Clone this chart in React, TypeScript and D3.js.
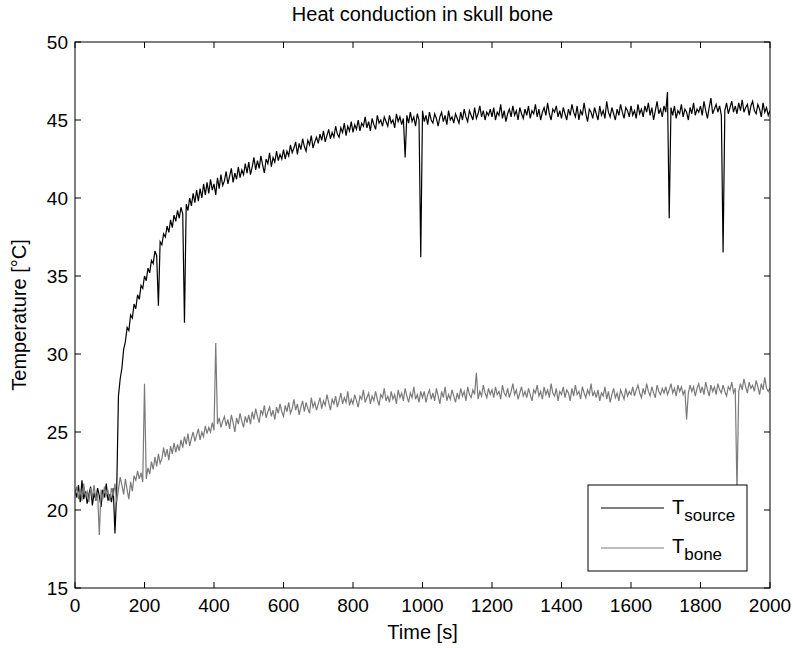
import React from 'react';
import * as d3 from 'd3';

const step = 5;
const sourceTemp = [
  21.3, 20.8, 21.6, 20.5, 21.9, 20.7, 21.2, 20.4, 21.0, 21.5, 20.3, 21.1, 20.6, 21.4, 20.9, 20.2, 21.3, 20.8, 21.7, 20.6,
  21.0, 20.5, 21.4, 18.5, 21.2, 27.3, 28.4, 29.1, 30.3, 30.8, 31.7, 31.5, 32.5, 32.3, 33.2, 32.9, 33.8, 33.5, 34.4, 34.2,
  35.0, 34.7, 35.5, 35.2, 36.0, 35.8, 36.6, 36.3, 33.1, 37.2, 37.0, 37.7, 37.5, 38.2, 37.8, 38.6, 38.1, 38.9, 38.5, 39.2,
  38.7, 39.4, 39.0, 32.0, 39.6, 39.2, 40.0, 39.5, 40.3, 39.7, 40.5, 39.8, 40.6, 40.0, 40.9, 40.2, 41.0, 40.3, 41.2, 40.5,
  40.9, 40.2, 41.3, 40.6, 41.5, 40.8, 41.1, 41.7, 40.9, 41.4, 41.9, 41.0, 41.6, 41.2, 42.0, 41.3, 41.8, 41.5, 42.2, 41.6,
  42.3, 41.5, 42.0, 42.6, 41.8, 42.4, 41.9, 42.7, 42.1, 41.6, 42.5, 42.2, 42.9, 42.0, 42.6, 42.3, 43.0, 42.4, 42.8, 42.5,
  43.1, 42.5, 43.0, 42.7, 43.4, 42.9, 43.2, 43.6, 42.8, 43.5, 43.1, 43.8, 43.3, 43.0, 43.7, 43.4, 44.0, 43.2, 43.6, 43.9,
  43.5, 44.1, 43.7, 44.3, 43.6, 44.0, 44.4, 43.8, 44.2, 43.9, 44.6, 44.1, 43.9, 44.5, 44.2, 44.8, 44.0, 44.6, 44.3, 44.9,
  44.2, 44.7, 44.4, 45.0, 44.3, 44.8, 44.6, 45.2, 44.5, 44.9, 44.3, 45.1, 44.7, 44.4, 45.3, 44.8, 45.0, 44.6, 45.2, 44.9,
  44.6, 45.3, 44.8, 45.0, 44.5, 45.4, 44.9, 45.2, 44.7, 45.1, 42.6, 45.3, 44.8, 45.5, 44.9, 45.2, 44.6, 45.4, 45.0, 36.2,
  45.6, 44.9, 45.3, 44.7, 45.5, 45.0, 44.8, 45.4, 45.1, 44.6, 45.2, 45.5, 44.9, 45.3, 44.7, 45.6, 45.0, 45.2, 44.8, 45.4,
  45.1, 44.8, 45.5, 45.0, 45.7, 45.2, 44.9, 45.6, 45.3, 45.0, 45.8, 45.1, 45.4, 45.9, 45.2, 45.6, 45.0, 45.5, 45.3, 45.7,
  45.2, 45.8, 45.0, 45.5, 45.3, 46.0, 45.1, 45.6, 44.9, 45.4, 45.7, 45.2, 45.9, 45.3, 45.6, 45.0, 45.8, 45.4, 45.1, 45.7,
  45.3, 45.9, 45.1, 45.6, 45.4, 46.0, 45.2, 45.7, 45.0, 45.5, 45.8, 45.3, 46.1, 45.4, 45.0, 45.7, 45.5, 45.9, 45.2, 45.6,
  45.1, 45.8, 45.4, 45.0, 45.7, 45.3, 46.0, 45.5, 45.2, 45.9, 45.0, 45.6, 45.3, 46.1, 45.4, 44.9, 45.7, 45.5, 45.1, 45.8,
  45.4, 45.0, 45.9, 45.3, 45.6, 45.1, 46.2, 45.5, 45.2, 45.8, 45.4, 45.0, 45.7, 45.3, 46.0, 45.5, 45.1, 45.8, 45.6, 45.2,
  45.9, 45.3, 45.6, 45.1, 46.0, 45.4, 45.7, 45.2, 45.9, 45.5, 46.1, 45.3, 45.8, 45.0, 45.6, 46.2, 45.4, 45.7, 45.2, 45.9,
  45.5, 46.8, 38.7, 45.8, 45.3, 45.9, 45.1, 45.6, 45.4, 46.0, 45.2, 45.7, 45.5, 45.0, 45.8, 45.4, 46.1, 45.3, 45.7, 45.5,
  45.9, 45.3, 46.2, 45.6, 45.1, 45.8, 46.4, 45.4, 45.7, 46.0, 45.5, 45.9, 45.3, 36.5, 45.6, 46.1, 45.4, 45.8, 46.2, 45.5,
  45.9, 45.4, 46.1, 45.6, 46.3, 45.5, 45.8, 46.0, 45.3, 45.9, 46.2, 45.6, 45.4, 46.0, 45.7, 45.2, 46.1, 45.5, 45.8, 45.3,
  45.6,
];
const boneTemp = [
  21.0, 21.5, 20.7, 21.3, 20.6, 21.7, 20.9, 21.2, 20.5, 21.4, 20.8, 21.6, 20.6, 21.1, 18.4, 21.3, 20.7, 21.5, 20.9, 21.2,
  20.6, 21.4, 20.9, 21.7, 20.5, 21.3, 22.1, 21.6, 21.0, 22.0, 21.3, 20.7, 21.8, 21.2, 22.2, 21.9, 22.5, 22.0, 22.4, 21.8,
  28.1, 22.0, 22.7, 22.3, 23.1, 22.6, 23.4, 22.8, 23.6, 23.0, 23.3, 24.0, 23.4, 23.9, 23.2, 24.1, 23.6, 24.3, 23.7, 24.2,
  23.8, 24.5, 24.0, 24.7, 24.2, 24.9, 24.1, 24.6, 25.0, 24.4, 24.8, 25.2, 24.5, 25.0, 24.7, 25.4, 24.9, 25.3, 25.0, 25.6,
  25.1, 30.7, 25.5, 25.9, 25.3, 25.7, 26.0, 25.4, 25.8, 25.2, 26.1, 25.6, 25.0, 25.9, 25.5, 26.2, 25.7, 25.3, 26.0, 25.6,
  26.1, 25.5, 26.3, 25.8, 26.5, 26.0, 25.6, 26.4, 26.1, 26.7, 25.9, 26.3, 26.6, 26.0, 26.4, 25.8, 26.6, 26.2, 26.8, 26.3,
  26.0, 26.7, 26.3, 26.9, 26.2, 26.5, 27.1, 26.4, 26.8, 26.1, 26.6, 27.0, 26.3, 26.9, 26.5, 26.2, 27.2, 26.6, 26.9, 26.4,
  26.8, 27.2, 26.5, 27.0, 26.7, 27.4, 26.9, 26.4, 27.1, 26.8, 27.3, 26.6, 27.0, 27.5, 26.8, 27.2, 26.9, 27.6, 26.7, 27.1,
  26.8, 27.4, 27.0, 26.6, 27.3, 27.1, 27.7, 26.9, 27.2, 27.5, 26.8, 27.3, 27.0, 27.6, 27.1, 26.7, 27.4, 27.2, 27.8, 27.0,
  27.3, 26.9, 27.6, 27.1, 27.4, 26.8, 27.7, 27.2, 27.5, 27.0, 27.8, 27.3, 26.9, 27.5, 27.2, 27.9, 27.1, 27.4, 26.9, 27.6,
  27.2, 27.6, 26.9, 27.4, 27.7, 27.1, 27.5, 27.0, 27.8, 27.3, 26.8, 27.6, 27.2, 27.9, 27.0, 27.4, 27.1, 27.7, 27.3, 26.9,
  27.5, 27.1, 27.8, 27.3, 27.6, 27.0, 27.9, 27.4, 27.2, 27.7, 27.4, 28.8, 27.1, 27.6, 27.3, 28.0, 27.5, 27.2, 27.8, 27.4,
  27.7, 27.2, 27.9, 27.4, 27.6, 27.1, 28.0, 27.5, 27.3, 27.8, 27.2, 27.6, 28.1, 27.4, 27.7, 27.1, 27.5, 27.9, 27.3, 27.6,
  27.2, 27.8, 27.4, 27.0, 27.7, 27.5, 28.0, 27.3, 27.6, 27.1, 27.9, 27.4, 27.7, 27.2, 28.1, 27.5, 27.3, 27.8, 27.0, 27.6,
  27.4, 27.9, 27.2, 27.7, 27.5, 27.0, 27.8, 27.3, 28.0, 27.4, 27.6, 27.1, 27.9, 27.5, 27.2, 27.7, 27.4, 28.1, 27.3, 27.6,
  27.2, 27.7, 27.0, 27.5, 27.3, 27.9, 27.1, 27.6, 26.9, 27.4, 27.8, 27.2, 27.5, 27.0, 27.7, 27.4, 27.1, 27.8, 27.3, 27.6,
  27.4, 27.9, 27.3, 27.7, 28.0, 27.5, 27.2, 27.8, 27.4, 28.1, 27.6, 27.3, 27.9, 27.5, 27.2, 28.0, 27.6, 27.4, 27.8, 27.5,
  27.9, 27.4, 27.7, 28.1, 27.5, 27.8, 27.3, 28.0, 27.6, 27.9, 27.4, 27.7, 25.8, 27.5, 28.0, 27.6, 27.9, 27.3, 27.8, 28.1,
  27.5, 27.9, 27.4, 28.2, 27.7, 27.3, 28.0, 27.6, 27.9, 27.4, 28.1, 27.7, 27.5, 28.0, 27.6, 27.3, 27.9, 27.7, 28.2, 27.5,
  27.8, 21.2, 27.6, 28.1, 27.7, 28.4, 27.9, 27.5, 28.2, 27.8, 28.0, 27.6, 28.3, 27.9, 27.4, 28.1, 27.7, 28.5, 27.8, 27.6,
  27.8,
];
const xTicks = [0, 200, 400, 600, 800, 1000, 1200, 1400, 1600, 1800, 2000];
const yTicks = [15, 20, 25, 30, 35, 40, 45, 50];

const W = 793, H = 648;
const L = 75, R = 770, T = 42, B = 588;
const font = '"Liberation Sans", Arial, Helvetica, sans-serif';

export default function App() {
  const x = d3.scaleLinear().domain([0, 2000]).range([L, R]);
  const y = d3.scaleLinear().domain([15, 50]).range([B, T]);
  const line = d3.line<number>().x((_, i) => x(i * step)).y(d => y(d));
  const tk = 6;

  return (
    <svg width={W} height={H} style={{ position: 'absolute', left: 0, top: 0, background: '#fff' }}
      fontFamily={font}>
      <defs>
        <clipPath id="plotArea"><rect x={L} y={T} width={R - L} height={B - T} /></clipPath>
      </defs>
      <rect x={0} y={0} width={W} height={H} fill="#fff" />
      <g clipPath="url(#plotArea)" fill="none" strokeWidth={1.2}>
        <path d={line(sourceTemp) || ''} stroke="#000" />
        <path d={line(boneTemp) || ''} stroke="#7a7a7a" />
      </g>
      <rect x={L} y={T} width={R - L} height={B - T} fill="none" stroke="#000" strokeWidth={1} />
      {xTicks.map(t => (
        <g key={'x' + t}>
          <line x1={x(t)} x2={x(t)} y1={B} y2={B - tk} stroke="#000" />
          <line x1={x(t)} x2={x(t)} y1={T} y2={T + tk} stroke="#000" />
          <text x={x(t)} y={612} fontSize={19} textAnchor="middle">{t}</text>
        </g>
      ))}
      {yTicks.map(t => (
        <g key={'y' + t}>
          <line x1={L} x2={L + tk} y1={y(t)} y2={y(t)} stroke="#000" />
          <line x1={R} x2={R - tk} y1={y(t)} y2={y(t)} stroke="#000" />
          <text x={L - 7} y={y(t) + 7} fontSize={19} textAnchor="end">{t}</text>
        </g>
      ))}
      <text x={(L + R) / 2} y={21} fontSize={20} textAnchor="middle">Heat conduction in skull bone</text>
      <text x={(L + R) / 2} y={639} fontSize={20} textAnchor="middle">Time [s]</text>
      <text transform={`translate(26,${(T + B) / 2}) rotate(-90)`} fontSize={20} textAnchor="middle">Temperature [°C]</text>
      <g>
        <rect x={588} y={485} width={159} height={86} fill="#fff" stroke="#000" />
        <line x1={601} x2={664} y1={508} y2={508} stroke="#000" />
        <line x1={601} x2={664} y1={548} y2={548} stroke="#7a7a7a" />
        <text x={672} y={514} fontSize={20}>T<tspan dy={7} fontSize={17}>source</tspan></text>
        <text x={672} y={553} fontSize={20}>T<tspan dy={7} fontSize={17}>bone</tspan></text>
      </g>
    </svg>
  );
}
